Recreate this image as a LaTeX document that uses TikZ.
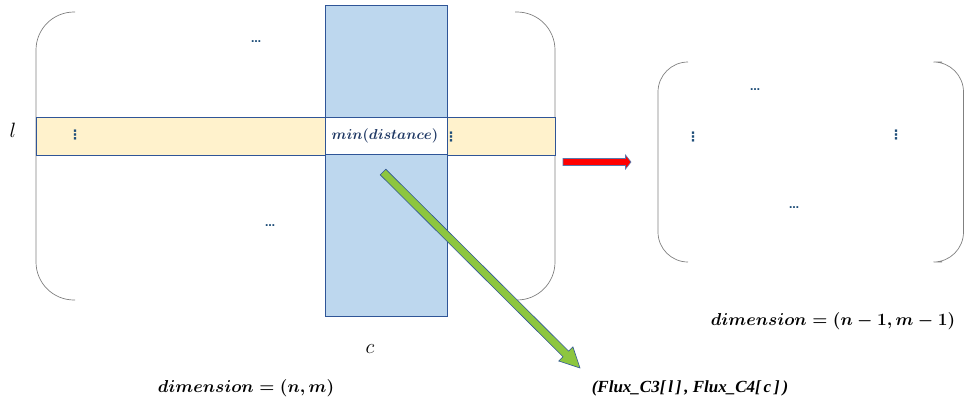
\documentclass[tikz,border=0pt]{standalone}
\usepackage{amsmath}
\usepackage{fontspec}
\newfontfamily\timesfont{Liberation Serif}
\newfontfamily\dejavu{DejaVu Sans}
\definecolor{bord}{HTML}{2F5597}
\definecolor{colfill}{HTML}{BDD7EE}
\definecolor{bandfill}{HTML}{FFF2CC}
\definecolor{navy}{HTML}{1F3864}
\definecolor{dotblue}{HTML}{1F4E79}
\definecolor{brk}{HTML}{808080}
\definecolor{greenarrow}{HTML}{8DC63F}
\begin{document}
\begin{tikzpicture}[x=1pt,y=-1pt,
  bracket/.style={draw=brk, line width=0.7pt, rounded corners=38pt},
  vdot/.style={text=dotblue, font=\dejavu\bfseries\fontsize{13}{13}\selectfont, inner sep=0pt},
  hdot/.style={text=dotblue, font=\dejavu\bfseries\fontsize{10}{10}\selectfont, inner sep=0pt},
  mathlbl/.style={inner sep=0pt, font=\fontsize{16}{19}\selectfont\boldmath},
  blockarrow/.style={draw=bord, line width=0.6pt}]
\useasboundingbox (0,0) rectangle (964,408);
% left matrix brackets
\draw[bracket] (75,12) -| (36,300) -- (75,300);
\draw[bracket] (515,12) -| (555,300) -- (515,300);
% band and column
\node[draw=bord, fill=bandfill, line width=0.6pt, minimum width=519pt, minimum height=38pt, inner sep=0pt] (band) at (295.5,136) {};
\node[draw=bord, fill=colfill, line width=0.6pt, minimum width=122pt, minimum height=311pt, inner sep=0pt] (col) at (386,160.5) {};
\node[draw=bord, fill=white, line width=0.6pt, minimum width=122pt, minimum height=37pt, inner sep=0pt] (mind) at (386,135.5) {};
\node[inner sep=0pt, text=navy, font=\fontsize{15.5}{18}\selectfont\boldmath] (mintxt) at (385,136) {$min(distance)$};
% dots
\node[vdot] (d1) at (75,135) {⋮};
\node[vdot] (d2) at (451,137) {⋮};
\node[hdot] (d3) at (256,42) {…};
\node[hdot] (d4) at (270,226) {…};
% labels
\node[inner sep=0pt, font=\fontsize{20}{22}\selectfont] (lbl) at (13,130) {$l$};
\node[inner sep=0pt, font=\fontsize{20}{22}\selectfont] (clbl) at (370,349) {$c$};
\node[mathlbl] (dim1) at (246,388) {$dimension=(n,m)$};
% green arrow
\coordinate (gs) at (383,172);
\coordinate (ge) at (580,368);
\draw[blockarrow, fill=greenarrow] (385.8,169.2) -- (568.6,351.1) -- (572.9,346.8) -- (ge) -- (558.7,361.0) -- (563.0,356.7) -- (380.2,174.8) -- cycle;
% red arrow
\coordinate (rs) at (563,162);
\coordinate (re) at (631,162);
\draw[blockarrow, draw=bord!80, fill=red] (563,158.5) -- (625.5,158.5) -- (625.5,155) -- (re) -- (625.5,169) -- (625.5,165.5) -- (563,165.5) -- cycle;
% flux text
\node[inner sep=0pt, font=\timesfont\bfseries\itshape\fontsize{17}{20}\selectfont] (flux) at (690,388) {(Flux\_C3[\,\textit{l}\,]\,, Flux\_C4[\,c\,]\,)};
% right matrix
\draw[bracket, rounded corners=30pt] (688,62) -| (658,262) -- (688,262);
\draw[bracket, rounded corners=30pt] (942,62) -| (963.5,262) -- (942,262);
\node[hdot] (r1) at (755,90) {…};
\node[vdot] (r2) at (693,137) {⋮};
\node[vdot] (r3) at (896,135) {⋮};
\node[hdot] (r4) at (794,208) {…};
\node[mathlbl] (dim2) at (833,321) {$dimension=(n-1,m-1)$};
\end{tikzpicture}
\end{document}
